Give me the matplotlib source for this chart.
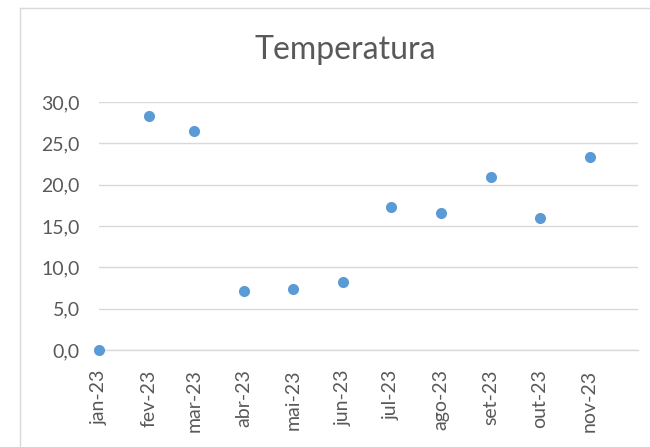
import matplotlib
matplotlib.use("Agg")
import matplotlib.pyplot as plt
from matplotlib.lines import Line2D
from matplotlib.ticker import FuncFormatter
import datetime as dt

# --- DATA ---
months = ["2023-01-01", "2023-02-01", "2023-03-01", "2023-04-01", "2023-05-01",
          "2023-06-01", "2023-07-01", "2023-08-01", "2023-09-01", "2023-10-01",
          "2023-11-01"]
tick_labels = ["jan-23", "fev-23", "mar-23", "abr-23", "mai-23", "jun-23",
               "jul-23", "ago-23", "set-23", "out-23", "nov-23"]
temperatura = [0.0, 28.3, 26.5, 7.1, 7.4, 8.2, 17.3, 16.6, 20.9, 16.0, 23.4]

GRAY = "#595959"
GRID = "#d9d9d9"
BLUE = "#5b9bd5"

plt.rcParams['font.family'] = ['Lato', 'DejaVu Sans']


def main():
    dates = [dt.datetime.strptime(m, "%Y-%m-%d") for m in months]

    fig = plt.figure(figsize=(6.5, 4.47), dpi=100)
    fig.patch.set_facecolor("white")

    # chart frame (left + top edges visible in the crop)
    fig.add_artist(Line2D([20 / 650, 20 / 650], [0, 1 - 8 / 447],
                          transform=fig.transFigure, color=GRID, lw=1))
    fig.add_artist(Line2D([20 / 650, 1], [1 - 8 / 447, 1 - 8 / 447],
                          transform=fig.transFigure, color=GRID, lw=1))

    ax = fig.add_axes([99 / 650, 1 - 350 / 447, (638 - 99) / 650, (350 - 102) / 447])
    ax.scatter(dates, temperatura, s=64, color=BLUE, zorder=3, clip_on=False,
               linewidths=0)

    ax.set_xlim(dt.datetime(2023, 1, 1), dt.datetime(2023, 12, 1))
    ax.set_ylim(0, 30)
    ax.set_yticks(range(0, 31, 5))
    ax.yaxis.set_major_formatter(FuncFormatter(lambda v, p: f"{v:.1f}".replace(".", ",")))
    ax.set_xticks(dates)
    ax.set_xticklabels(tick_labels, rotation=90)

    ax.grid(axis="y", color=GRID, lw=1)
    ax.set_axisbelow(True)
    for side in ["top", "right", "left"]:
        ax.spines[side].set_visible(False)
    ax.spines["bottom"].set_color(GRID)
    ax.spines["bottom"].set_linewidth(1)

    ax.tick_params(axis="both", length=0, labelsize=14, labelcolor=GRAY)
    ax.tick_params(axis="y", pad=14)
    ax.tick_params(axis="x", pad=14)

    fig.text(345 / 650, 1 - 50 / 447, "Temperatura", ha="center", va="center",
             fontsize=23, color=GRAY)

    fig.savefig("out.png", dpi=100, facecolor="white")


if __name__ == "__main__":
    main()
